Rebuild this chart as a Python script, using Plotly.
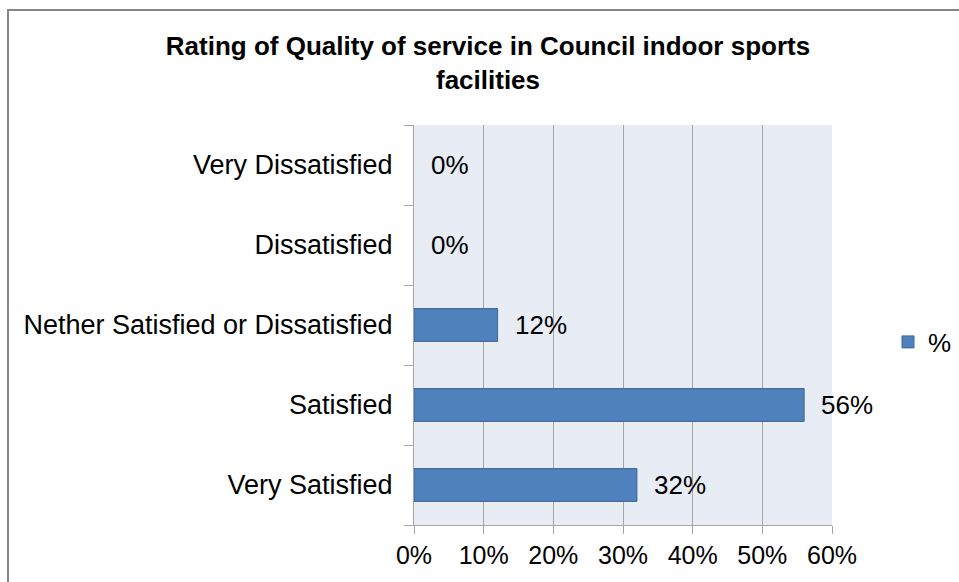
import plotly.graph_objects as go

# Survey responses, bottom to top as drawn on the category axis
categories = [
    "Very Satisfied",
    "Satisfied",
    "Nether Satisfied or Dissatisfied",
    "Dissatisfied",
    "Very Dissatisfied",
]
share = [0.32, 0.56, 0.12, 0.0, 0.0]
label_text = ["32%", "56%", "12%", "0%", "0%"]
x_ticks = [0, 0.1, 0.2, 0.3, 0.4, 0.5, 0.6]
x_tick_text = ["0%", "10%", "20%", "30%", "40%", "50%", "60%"]

W, H = 959, 582
L, R, T, B = 414, 832, 125, 525  # plot-area edges in pixels

FONT = "Liberation Sans, Arial, sans-serif"

fig = go.Figure()
fig.add_trace(go.Bar(
    y=categories,
    x=share,
    orientation="h",
    name="%",
    width=0.41,
    marker=dict(
        color="#4F81BD",
        # empty bars get no outline
        line=dict(color="#3B6696", width=[1 if v > 0 else 0 for v in share]),
    ),
))

# value labels just right of each bar end
for cat, val, txt in zip(categories, share, label_text):
    fig.add_annotation(
        x=val, y=cat, text=txt, showarrow=False,
        xanchor="left", yanchor="middle", xshift=15,
        font=dict(family=FONT, size=26, color="#000000"),
    )


def px_x(p):
    return (p - L) / (R - L)


def px_y(p):
    return (B - p) / (B - T)


# outer chart frame
fig.add_shape(
    type="rect", xref="paper", yref="paper",
    x0=px_x(8), x1=px_x(W + 20), y0=px_y(H + 20), y1=px_y(10),
    line=dict(color="#868686", width=2), fillcolor="rgba(0,0,0,0)",
    layer="below",
)

fig.update_layout(
    width=W, height=H,
    margin=dict(l=L, r=W - R, t=T, b=H - B, autoexpand=False),
    paper_bgcolor="#FFFFFF",
    plot_bgcolor="#E8ECF5",
    font=dict(family=FONT, size=24, color="#000000"),
    title=dict(
        text="<b>Rating of Quality of service in Council indoor sports<br>facilities</b>",
        x=488 / W, xanchor="center",
        y=1 - 55 / H, yanchor="middle",
        font=dict(family=FONT, size=26, color="#000000"),
    ),
    showlegend=True,
    legend=dict(
        x=px_x(888), y=px_y(342), xanchor="left", yanchor="middle",
        font=dict(family=FONT, size=26, color="#000000"),
        bgcolor="rgba(0,0,0,0)", itemwidth=30,
    ),
    bargap=0.59,
)

fig.update_xaxes(
    range=[0, 0.6],
    tickvals=x_ticks, ticktext=x_tick_text,
    showgrid=True, gridcolor="#A6A6A6", gridwidth=1,
    zeroline=False,
    showline=True, linecolor="#A6A6A6", linewidth=1,
    ticks="outside", ticklen=8, tickcolor="#A6A6A6",
    tickfont=dict(family=FONT, size=25),
    fixedrange=True,
)
fig.update_yaxes(
    categoryorder="array", categoryarray=categories,
    showgrid=False, zeroline=False,
    showline=True, linecolor="#A6A6A6", linewidth=1,
    ticks="outside", ticklen=9, tickcolor="#A6A6A6",
    tickson="boundaries",
    ticklabelstandoff=15,
    tickfont=dict(family=FONT, size=27),
    fixedrange=True,
)

fig.write_html("out.html")
